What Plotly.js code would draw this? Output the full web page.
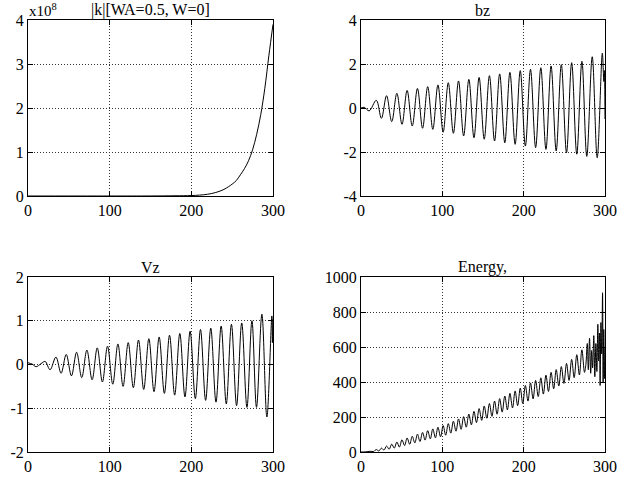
<!DOCTYPE html>
<html>
<head>
<meta charset="utf-8">
<script src="https://cdn.plot.ly/plotly-3.0.1.min.js"></script>
<style>html,body{margin:0;padding:0;background:#fff;}#plot{width:634px;height:480px;}</style>
</head>
<body>
<div id="plot"></div>
<script>
// |k| (in units of 1e8)
const kX = [0, 100, 150, 180, 200, 210, 220, 230, 240, 250, 255, 260, 265, 270, 275, 280, 285, 290, 295, 300];
const kY = [0, 0.0001, 0.001, 0.005, 0.01, 0.02, 0.04, 0.08, 0.15, 0.27, 0.35, 0.48, 0.62, 0.8, 1.05, 1.4, 1.85, 2.45, 3.2, 3.9];

// bz extremes
const bzX = [0, 4, 10, 18.8, 25.1, 31.4, 37.8, 44.1, 50.4, 56.7, 63.0, 69.4, 75.7, 82.0, 88.3, 94.6, 101.0, 107.3, 113.6, 119.9, 126.2, 132.6, 138.9, 145.2, 151.5, 157.9, 164.2, 170.5, 176.8, 183.1, 189.5, 195.8, 202.1, 208.4, 214.7, 221.1, 227.4, 233.7, 240.0, 246.3, 252.7, 259.0, 265.3, 271.6, 277.6, 284.3, 290.4, 296.7, 298.6, 299.3, 300];
const bzY = [0, 0.03, -0.13, 0.35, -0.47, 0.56, -0.62, 0.67, -0.74, 0.8, -0.82, 0.89, -0.92, 0.97, -0.97, 1.05, -1.1, 1.15, -1.15, 1.23, -1.27, 1.3, -1.35, 1.39, -1.42, 1.47, -1.5, 1.55, -1.58, 1.62, -1.65, 1.7, -1.73, 1.76, -1.8, 1.83, -1.88, 1.91, -1.95, 1.97, -2.03, 2.06, -2.1, 2.12, -2.2, 2.33, -2.26, 2.49, 1.2, 1.7, -0.5];

// Vz extremes
const vzX = [0, 5, 10, 16, 21, 27, 34.2, 40.5, 46.8, 53.2, 59.5, 65.8, 72.1, 78.5, 84.8, 91.1, 97.4, 103.8, 110.1, 116.4, 122.7, 129.0, 135.3, 141.7, 148.0, 154.3, 160.6, 167.0, 173.3, 179.6, 185.9, 192.2, 198.5, 204.9, 211.2, 217.5, 223.8, 230.2, 236.5, 242.8, 249.1, 255.4, 261.7, 268.1, 274.2, 279.8, 286.4, 292.5, 298.6, 299.3, 300];
const vzY = [0.04, 0.01, -0.05, 0.02, 0.07, -0.12, 0.17, -0.2, 0.23, -0.26, 0.28, -0.3, 0.33, -0.35, 0.38, -0.4, 0.42, -0.45, 0.47, -0.5, 0.5, -0.53, 0.56, -0.57, 0.59, -0.62, 0.63, -0.66, 0.67, -0.7, 0.71, -0.74, 0.76, -0.78, 0.8, -0.82, 0.83, -0.86, 0.88, -0.9, 0.92, -0.94, 0.95, -0.98, 1.0, -0.98, 1.15, -1.2, 1.11, 0.5, 1.05];

// Energy extremes
const enX = [0, 6, 11, 15.6, 18.8, 22.0, 25.1, 28.3, 31.4, 34.6, 37.8, 40.9, 44.1, 47.2, 50.4, 53.6, 56.7, 59.9, 63.0, 66.2, 69.4, 72.5, 75.7, 78.8, 82.0, 85.2, 88.3, 91.5, 94.6, 97.8, 101.0, 104.1, 107.3, 110.4, 113.6, 116.8, 119.9, 123.1, 126.2, 129.4, 132.6, 135.7, 138.9, 142.0, 145.2, 148.4, 151.5, 154.7, 157.9, 161.0, 164.2, 167.3, 170.5, 173.6, 176.8, 180.0, 183.1, 186.3, 189.5, 192.6, 195.8, 198.9, 202.1, 205.3, 208.4, 211.6, 214.7, 217.9, 221.1, 224.2, 227.4, 230.5, 233.7, 236.9, 240.0, 243.2, 246.3, 249.5, 252.7, 255.8, 259.0, 262.1, 265.3, 268.5, 271.6, 274.8, 276.5, 278.2, 279.5, 281.0, 282.4, 283.6, 284.8, 286.2, 287.5, 288.8, 290.0, 291.2, 292.2, 293.2, 294.0, 295.0, 296.0, 297.0, 297.7, 298.5, 299.3, 300];
const enY = [0, 1, 4, 3, 14, 6, 22, 11, 34, 16, 45, 22, 57, 28, 70, 37, 80, 44, 90, 52, 102, 60, 112, 68, 122, 75, 132, 81, 142, 87, 151, 96, 162, 108, 176, 119, 189, 130, 202, 142, 217, 155, 232, 168, 248, 181, 263, 193, 277, 204, 291, 216, 305, 228, 320, 241, 335, 252, 349, 265, 365, 277, 380, 291, 395, 304, 409, 317, 424, 331, 439, 346, 455, 361, 471, 377, 488, 392, 506, 409, 529, 425, 556, 440, 584, 455, 500, 620, 470, 650, 450, 580, 480, 665, 430, 620, 460, 730, 520, 680, 380, 740, 560, 910, 400, 700, 420, 600];

// Axis ticks
const xTicks = [0, 100, 200, 300];
const xTickText = ['0', '100', '200', '300'];
const y1Ticks = [0, 1, 2, 3, 4];
const y1TickText = ['0', '1', '2', '3', '4'];
const y2Ticks = [-4, -2, 0, 2, 4];
const y2TickText = ['-4', '-2', '0', '2', '4'];
const y3Ticks = [-2, -1, 0, 1, 2];
const y3TickText = ['-2', '-1', '0', '1', '2'];
const y4Ticks = [0, 200, 400, 600, 800, 1000];
const y4TickText = ['0', '200', '400', '600', '800', '1000'];

const titles = ['|k|[WA=0.5, W=0]', 'bz', 'Vz', 'Energy,'];

const FONT = 'Liberation Serif';
const line = {color: '#000', width: 1, shape: 'spline', smoothing: 1};

const traces = [
  {x: kX, y: kY, xaxis: 'x', yaxis: 'y', mode: 'lines', line: line},
  {x: bzX, y: bzY, xaxis: 'x2', yaxis: 'y2', mode: 'lines', line: line},
  {x: vzX, y: vzY, xaxis: 'x3', yaxis: 'y3', mode: 'lines', line: line},
  {x: enX, y: enY, xaxis: 'x4', yaxis: 'y4', mode: 'lines', line: line}
];

const W = 634, H = 480;
const colDom = [[28 / W, 273 / W], [361 / W, 605 / W]];
const rowDom = [[1 - 196 / H, 1 - 20 / H], [1 - 452 / H, 1 - 277 / H]];

function ax(extra) {
  return Object.assign({
    showline: true, linecolor: '#000', linewidth: 1, mirror: 'ticks',
    ticks: 'inside', ticklen: 5, tickcolor: '#000', tickwidth: 1,
    showgrid: true, gridcolor: '#333', gridwidth: 1, griddash: '1px,2px',
    zeroline: false, automargin: false, fixedrange: true, tickmode: 'array',
    tickfont: {family: FONT, size: 16, color: '#000'}
  }, extra);
}

function ann(text, x, y, xanchor, size) {
  return {text: text, xref: 'paper', yref: 'paper', x: x, y: y, xanchor: xanchor, yanchor: 'bottom',
          showarrow: false, borderpad: 0, font: {family: FONT, size: size, color: '#000'}};
}

const layout = {
  width: W, height: H, showlegend: false,
  margin: {l: 0, r: 0, t: 0, b: 0},
  paper_bgcolor: '#fff', plot_bgcolor: '#fff',
  font: {family: FONT, size: 16, color: '#000'},
  xaxis: ax({domain: colDom[0], anchor: 'y', range: [0, 300], tickvals: xTicks, ticktext: xTickText}),
  yaxis: ax({domain: rowDom[0], anchor: 'x', range: [0, 4], tickvals: y1Ticks, ticktext: y1TickText}),
  xaxis2: ax({domain: colDom[1], anchor: 'y2', range: [0, 300], tickvals: xTicks, ticktext: xTickText}),
  yaxis2: ax({domain: rowDom[0], anchor: 'x2', range: [-4, 4], tickvals: y2Ticks, ticktext: y2TickText}),
  xaxis3: ax({domain: colDom[0], anchor: 'y3', range: [0, 300], tickvals: xTicks, ticktext: xTickText}),
  yaxis3: ax({domain: rowDom[1], anchor: 'x3', range: [-2, 2], tickvals: y3Ticks, ticktext: y3TickText}),
  xaxis4: ax({domain: colDom[1], anchor: 'y4', range: [0, 300], tickvals: xTicks, ticktext: xTickText}),
  yaxis4: ax({domain: rowDom[1], anchor: 'x4', range: [0, 1000], tickvals: y4Ticks, ticktext: y4TickText}),
  annotations: [
    ann(titles[0], (colDom[0][0] + colDom[0][1]) / 2, rowDom[0][1], 'center', 16),
    ann(titles[1], (colDom[1][0] + colDom[1][1]) / 2, rowDom[0][1], 'center', 16),
    ann(titles[2], (colDom[0][0] + colDom[0][1]) / 2, rowDom[1][1], 'center', 16),
    ann(titles[3], (colDom[1][0] + colDom[1][1]) / 2, rowDom[1][1], 'center', 16),
    ann('x10<sup>8</sup>', colDom[0][0], rowDom[0][1], 'left', 15)
  ]
};

Plotly.newPlot('plot', traces, layout, {displayModeBar: false, staticPlot: true});
</script>
</body>
</html>
